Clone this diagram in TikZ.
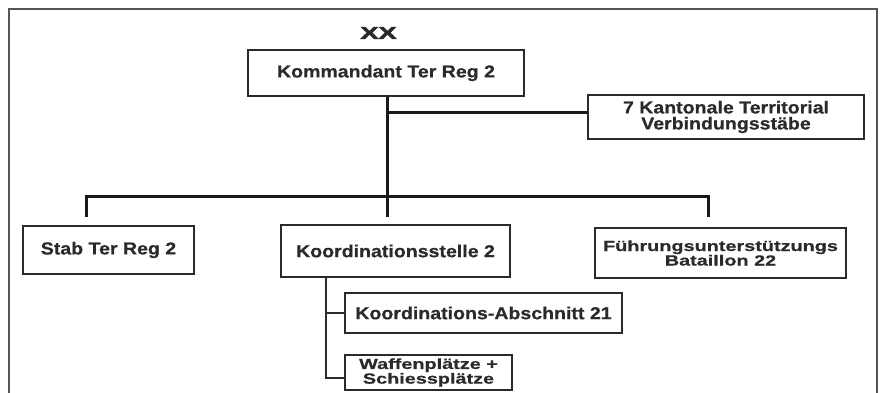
\documentclass[tikz,border=0pt]{standalone}
\usepackage{fontspec}
\setmainfont{Liberation Sans}[FakeStretch=1.13, BoldFeatures={FakeBold=0.6}]
\newfontfamily\widefont{Liberation Sans}[FakeStretch=1.35, BoldFeatures={FakeBold=0.6}]
\newfontfamily\xxfont{Liberation Sans Bold}[FakeStretch=1.6,FakeBold=3.5]
\definecolor{ink}{HTML}{2A2A2A}
\definecolor{framec}{HTML}{555555}
\begin{document}
\begin{tikzpicture}[x=1pt,y=-1pt,
  orgbox/.style={draw=ink, line width=1.4pt, inner sep=0pt, align=center,
    text=ink, font=\bfseries\fontsize{17.3}{15.5}\selectfont},
  widebox/.style={orgbox, font=\widefont\bfseries\fontsize{14.7}{#1}\selectfont},
  bus/.style={draw=black!90, line width=3pt},
  subline/.style={draw=ink, line width=1.6pt}]
\useasboundingbox (0,0) rectangle (880,392);
\draw[framec, line width=1.3pt] (9,400) -- (9,9) -- (877,9) -- (877,400);

\node[text=ink, font=\xxfont\fontsize{17}{17}\selectfont] (xx) at (378.5,33) {XX};

\node[orgbox, minimum width=276pt, minimum height=46pt] (kom) at (386,73) {Kommandant Ter Reg 2};
\node[orgbox, minimum width=276pt, minimum height=44pt, font=\bfseries\fontsize{17.3}{16}\selectfont] (kan) at (726,117)
  {7 Kantonale Territorial\\Verbindungsstäbe};
\node[orgbox, minimum width=171pt, minimum height=48pt] (stab) at (108.5,250) {Stab Ter Reg 2};
\node[orgbox, minimum width=229pt, minimum height=52pt] (koord) at (395.5,251) {Koordinationsstelle 2};
\node[widebox=14.5, minimum width=251pt, minimum height=50pt] (fue) at (720.5,253)
  {Führungsunterstützungs\\Bataillon 22};
\node[orgbox, minimum width=277pt, minimum height=40pt] (abs) at (483.5,313) {Koordinations-Abschnitt 21};
\node[widebox=12.5, minimum width=167pt, minimum height=35pt] (waf) at (428.5,372.5)
  {Waffenplätze +\\Schiessplätze};

% main tree
\coordinate (jk) at (387,112);
\coordinate (jb) at (387,196);
\coordinate (bl) at (86,196);
\coordinate (br) at (708,196);
\coordinate (dl) at (86,217);
\coordinate (dm) at (387,217);
\coordinate (dr) at (708,217);
\draw[bus] (kom.south -| jb) -- (dm);
\draw[bus] (jk) -- (jk -| kan.west);
\draw[bus, line cap=butt] (dl) -- (bl) -- (br) -- (dr);

% sub tree
\coordinate (sv) at (326,277);
\coordinate (s1) at (326,313);
\coordinate (s2) at (326,378);
\draw[subline] (koord.south -| sv) -- (s2) -- (s2 -| waf.west);
\draw[subline] (s1) -- (s1 -| abs.west);
\end{tikzpicture}
\end{document}
